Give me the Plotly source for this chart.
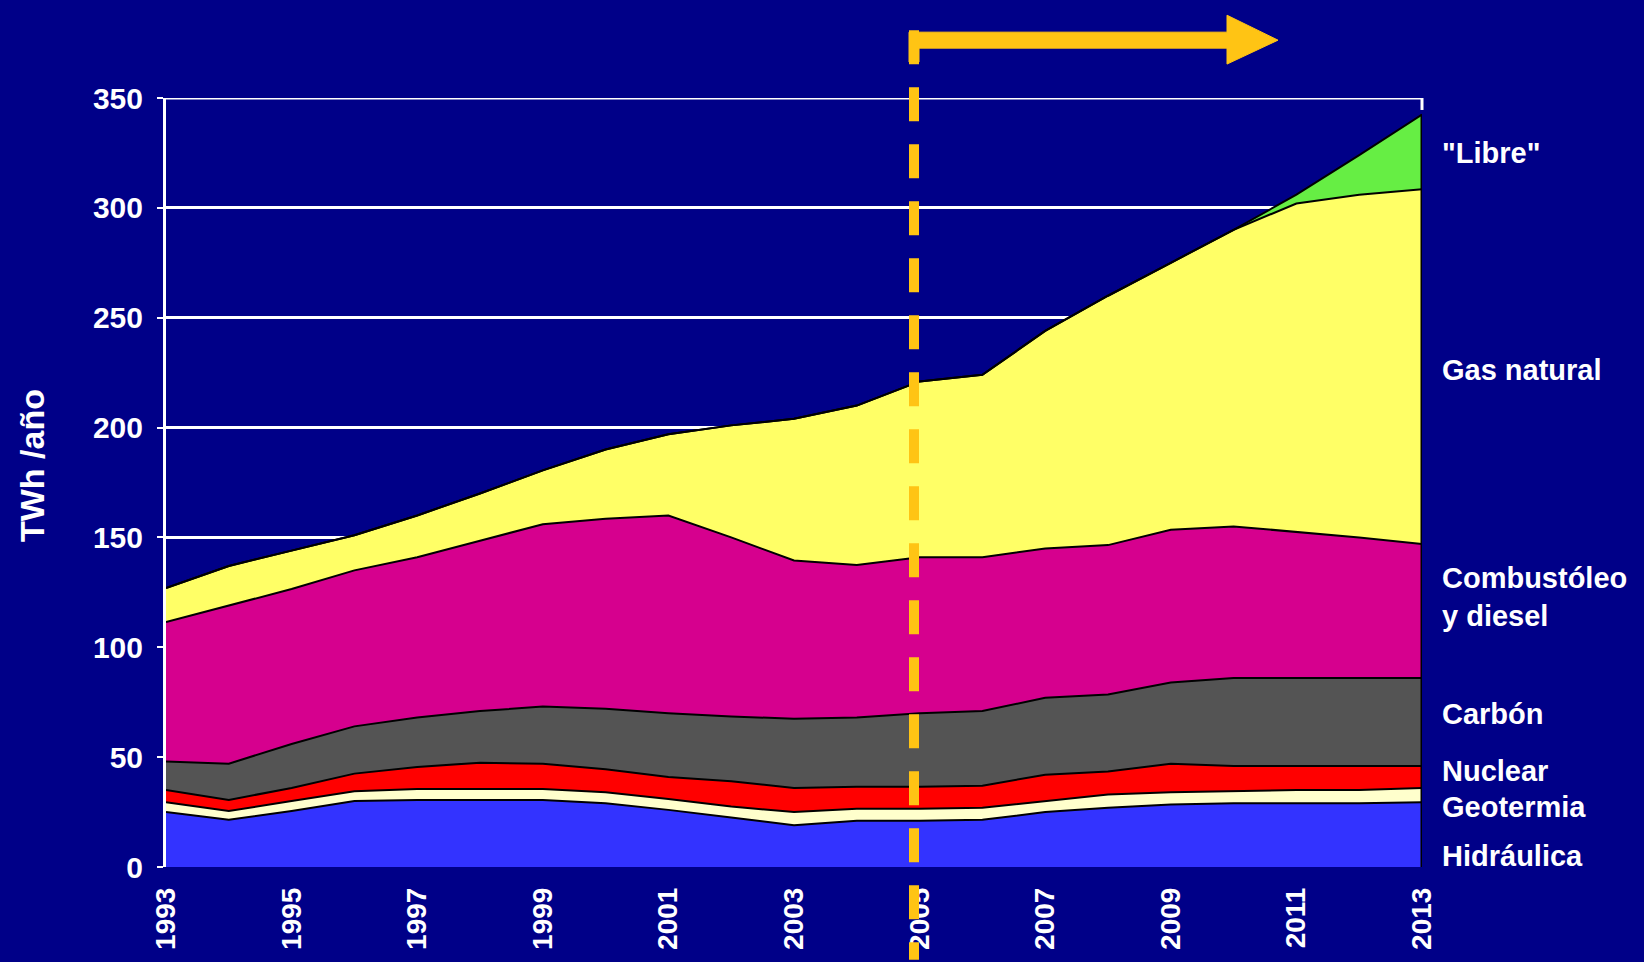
import plotly.graph_objects as go

years = list(range(1993, 2014))
hidraulica = [25, 21.5, 25.5, 30, 30.5, 30.5, 30.5, 29, 26, 22.5, 19, 21, 21, 21.5, 25, 27, 28.5, 29, 29, 29, 29.5]
geotermia = [4.5, 4, 4.5, 4.5, 5, 5, 5, 5, 5, 5, 6, 5.5, 5.5, 5.5, 5, 6, 5.5, 5.5, 6, 6, 6.5]
nuclear = [5.5, 5, 6, 8, 10, 12, 11.5, 10.5, 10, 11.5, 11, 10, 10, 10, 12, 10.5, 13, 11.5, 11, 11, 10]
carbon = [13, 16.5, 20, 21.5, 22.5, 23.5, 26, 27.5, 29, 29.5, 31.5, 31.5, 33.5, 34, 35, 35, 37, 40, 40, 40, 40]
combustoleo = [63.5, 72, 70.5, 71, 73, 77.5, 83, 86.5, 90, 81.5, 72, 69.5, 71, 70, 68, 68, 69.5, 69, 66.5, 64, 61]
gas_natural = [15.5, 18, 17.5, 16, 19, 21.5, 24.5, 31.5, 37, 51, 64.5, 72.5, 80, 83, 99, 113.5, 121.5, 135, 149.5, 156, 161.5]
libre = [0] * 18 + [4, 18, 34]

tick_years = list(range(1993, 2014, 2))
tick_labels = [str(y) for y in tick_years]
y_ticks = [0, 50, 100, 150, 200, 250, 300, 350]

series = [
    ("Hidráulica", hidraulica, "#3333FF"),
    ("Geotermia", geotermia, "#FFFFCC"),
    ("Nuclear", nuclear, "#FF0000"),
    ("Carbón", carbon, "#545454"),
    ("Combustóleo y diesel", combustoleo, "#D6008E"),
    ("Gas natural", gas_natural, "#FFFF66"),
    ('"Libre"', libre, "#66EE44"),
]

W, H = 1644, 962
L, R, T, B = 166, 1422, 98, 869
BG = "#000088"
FONT = "Liberation Sans"


def px(x):
    return (x - L) / (R - L)


def py(y):
    return (B - y) / (B - T)


fig = go.Figure()
for name, vals, col in series:
    fig.add_trace(go.Scatter(
        x=years, y=vals, name=name, stackgroup="one", mode="lines",
        line=dict(color="#000000", width=2), fillcolor=col, showlegend=False,
    ))

# right edge outline from data
totals = [sum(v) for v in zip(*[s[1] for s in series])]
fig.add_shape(type="line", xref="x", yref="y", x0=years[-1], x1=years[-1], y0=0, y1=totals[-1],
              line=dict(color="#000000", width=3), layer="above")

# top gridline at 350 with small right-end tick
fig.add_shape(type="line", xref="paper", yref="y", x0=0, x1=1, y0=y_ticks[-1], y1=y_ticks[-1],
              line=dict(color="white", width=3), layer="below")
fig.add_shape(type="line", xref="paper", yref="paper", x0=1, x1=1, y0=1, y1=py(T + 12),
              line=dict(color="white", width=3), layer="below")

# dashed 2005 marker and arrow
xd = px(914)
fig.add_shape(type="line", xref="paper", yref="paper", x0=xd, x1=xd, y0=py(30), y1=py(962),
              line=dict(color="#FFC414", width=10, dash="34px,23px"), layer="above")
fig.add_shape(type="path", xref="paper", yref="paper",
              path=(f"M {px(909)} {py(32)} L {px(1227)} {py(32)} L {px(1227)} {py(15)} "
                    f"L {px(1278)} {py(40)} L {px(1227)} {py(64)} L {px(1227)} {py(48)} "
                    f"L {px(919)} {py(48)} L {px(919)} {py(62)} L {px(909)} {py(62)} Z"),
              fillcolor="#FFC414", line=dict(color="#FFC414", width=1), layer="above")

labels = [
    ('"Libre"', 325),
    ("Gas natural", 226),
    ("Combustóleo<br>y diesel", 123),
    ("Carbón", 69.5),
    ("Nuclear", 43.5),
    ("Geotermia", 27.5),
    ("Hidráulica", 5),
]
for text, yv in labels:
    fig.add_annotation(x=px(1440), xref="paper", y=yv, yref="y", text=text, showarrow=False,
                       xanchor="left", yanchor="middle", align="left",
                       font=dict(family=FONT, size=29, color="white", weight="bold"))

fig.add_annotation(x=px(32), xref="paper", y=py(467), yref="paper", text="TWh /año",
                   textangle=-90, showarrow=False, xanchor="center", yanchor="middle",
                   font=dict(family=FONT, size=34, color="white", weight="bold"))

fig.update_layout(
    width=W, height=H,
    margin=dict(l=L, r=W - R, t=T, b=H - B, pad=0),
    paper_bgcolor=BG, plot_bgcolor=BG,
    font=dict(family=FONT, color="white", weight="bold"),
    xaxis=dict(range=[1993, 2013], tickvals=tick_years, ticktext=tick_labels, tickangle=-90,
               showgrid=False, zeroline=False, showline=False, ticks="",
               tickfont=dict(size=28, color="white", family=FONT, weight="bold"),
               ticklabelstandoff=14),
    yaxis=dict(range=[0, 350], tickvals=y_ticks, showgrid=True, gridcolor="white", gridwidth=3,
               zeroline=False, showline=True, linecolor="white", linewidth=3,
               ticks="outside", ticklen=6, tickcolor="white", tickwidth=2,
               tickfont=dict(size=30, color="white", family=FONT, weight="bold"),
               ticklabelstandoff=8),
)

fig.write_html(
    "out.html",
    config={"displayModeBar": False},
    post_script=("document.body.style.margin='0';document.body.style.padding='0';"
                 "document.body.style.background='#000088';"
                 "document.documentElement.style.background='#000088';"
                 "document.body.style.overflow='hidden';"),
)
